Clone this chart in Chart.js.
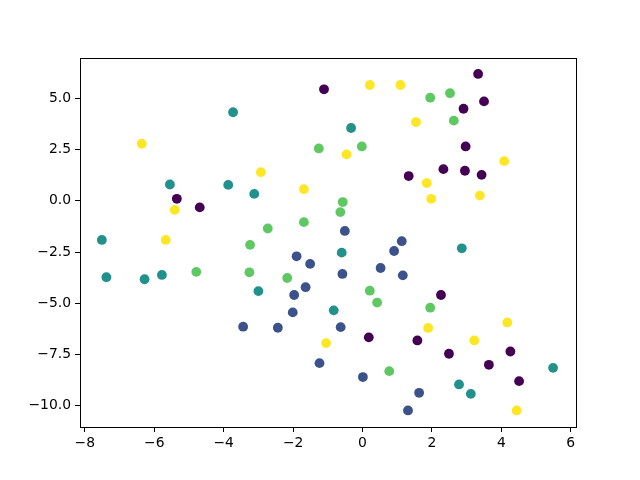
<!DOCTYPE html>
<html>
<head>
<meta charset="utf-8">
<script src="https://cdn.jsdelivr.net/npm/chart.js@4/dist/chart.umd.min.js"></script>
<style>
  html, body { margin: 0; padding: 0; background: #fff; }
  canvas { display: block; }
</style>
</head>
<body>
<canvas id="chart" width="640" height="480"></canvas>
<script>
/* scatter of five blobs, coloured by cluster label (viridis) */
var c0x = [-1.11, -5.35, -4.69, 3.33, 2.91, 3.50, 2.97, 2.33, 2.95, 3.43, 1.33, 2.26, 0.18, 1.58, 2.49, 4.26, 3.64, 4.51];
var c0y = [5.45, 0.10, -0.32, 6.20, 4.50, 4.86, 2.66, 1.55, 1.47, 1.27, 1.21, -4.60, -6.67, -6.82, -7.47, -7.36, -8.01, -8.81];

var c1x = [-0.51, 1.13, -1.90, -1.51, -1.97, -1.64, -2.01, -3.44, -2.44, -1.24, 0.91, -0.58, 0.52, 1.16, -0.63, 0.01, 1.63, 1.31];
var c1y = [-1.47, -1.97, -2.71, -3.08, -4.60, -4.22, -5.45, -6.15, -6.20, -7.93, -2.45, -3.57, -3.28, -3.64, -6.17, -8.61, -9.38, -10.24];

var c2x = [-3.73, -5.55, -3.87, -3.12, -7.51, -0.33, -7.38, -6.28, -5.78, -3.00, -0.60, 2.86, -0.83, 5.49, 2.78, 3.12];
var c2y = [4.33, 0.80, 0.78, 0.34, -1.91, 3.56, -3.73, -3.83, -3.62, -4.41, -2.53, -2.32, -5.35, -8.16, -8.97, -9.43];

var c3x = [-1.26, -1.69, -2.73, -3.24, 1.95, 2.52, 2.63, -0.02, -0.57, -0.64, -4.79, -3.26, -2.17, 0.21, 0.42, 1.95, 0.77];
var c3y = [2.56, -1.04, -1.35, -2.15, 5.04, 5.26, 3.92, 2.66, -0.06, -0.55, -3.47, -3.49, -3.77, -4.39, -4.97, -5.22, -8.32];

var c4x = [-6.36, -2.93, -1.69, -5.41, -5.67, 0.21, 1.09, 1.54, -0.46, 4.08, 1.85, 1.98, 3.38, -1.05, 1.89, 4.17, 3.22, 4.44];
var c4y = [2.79, 1.40, 0.57, -0.44, -1.91, 5.66, 5.66, 3.85, 2.27, 1.94, 0.87, 0.10, 0.26, -6.95, -6.21, -5.94, -6.82, -10.24];

var clusterColors = ['#440154', '#3b528b', '#21918c', '#5ec962', '#fde725'];

var xTicks = [-8, -6, -4, -2, 0, 2, 4, 6];
var yTicks = [-10.0, -7.5, -5.0, -2.5, 0.0, 2.5, 5.0];

/* ---------- helpers ---------- */
function pts(xs, ys) {
  return xs.map(function (x, i) { return { x: x, y: ys[i] }; });
}
function minus(s) { return s.replace('-', '\u2212'); }

var clusters = [[c0x, c0y], [c1x, c1y], [c2x, c2y], [c3x, c3y], [c4x, c4y]];
var datasets = clusters.map(function (c, i) {
  return {
    data: pts(c[0], c[1]),
    backgroundColor: clusterColors[i],
    borderWidth: 0,
    pointRadius: 4.9,
    pointHoverRadius: 4.9
  };
});

// top/right spines, matplotlib style
var frame = {
  id: 'frame',
  afterDraw: function (chart) {
    var a = chart.chartArea, ctx = chart.ctx;
    ctx.save();
    ctx.strokeStyle = '#000';
    ctx.lineWidth = 1;
    ctx.strokeRect(Math.round(a.left) + 0.5, Math.round(a.top) + 0.5,
      Math.round(a.right - a.left), Math.round(a.bottom - a.top));
    ctx.restore();
  }
};

var font = { family: "'DejaVu Sans', sans-serif", size: 13.9 };

new Chart(document.getElementById('chart'), {
  type: 'scatter',
  data: { datasets: datasets },
  plugins: [frame],
  options: {
    responsive: false,
    animation: false,
    events: [],
    layout: { padding: { left: 0, right: 64, top: 58, bottom: 0 } },
    plugins: { legend: { display: false }, tooltip: { enabled: false } },
    scales: {
      x: {
        type: 'linear',
        min: -8.14, max: 6.15,
        afterBuildTicks: function (s) { s.ticks = xTicks.map(function (v) { return { value: v }; }); },
        afterFit: function (s) { s.height = 53; },
        ticks: {
          color: '#000', font: font, padding: 3, maxRotation: 0,
          callback: function (v) { return minus(String(v)); }
        },
        grid: { drawOnChartArea: false, drawTicks: true, tickLength: 5, color: '#000', lineWidth: 1 },
        border: { display: true, color: '#000', width: 1 }
      },
      y: {
        type: 'linear',
        min: -11.05, max: 6.98,
        afterBuildTicks: function (s) { s.ticks = yTicks.map(function (v) { return { value: v }; }); },
        afterFit: function (s) { s.width = 80; },
        ticks: {
          color: '#000', font: font, padding: 4,
          callback: function (v) { return minus(Number(v).toFixed(1)); }
        },
        grid: { drawOnChartArea: false, drawTicks: true, tickLength: 5, color: '#000', lineWidth: 1 },
        border: { display: true, color: '#000', width: 1 }
      }
    }
  }
});
</script>
</body>
</html>
